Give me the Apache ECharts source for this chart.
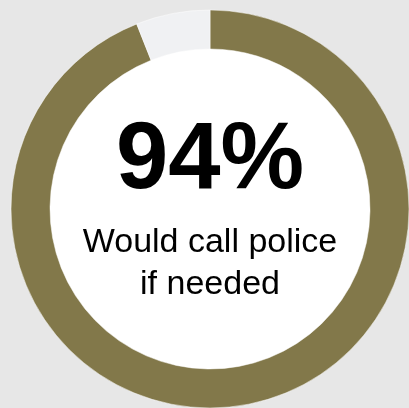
<!DOCTYPE html>
<html>
<head>
<meta charset="utf-8">
<script src="https://cdn.jsdelivr.net/npm/echarts@6/dist/echarts.min.js"></script>
<style>
html,body{margin:0;padding:0;background:#e7e7e7;}
#chart{width:409px;height:408px;}
</style>
</head>
<body>
<div id="chart"></div>
<script>
const categories = ['Would call police', 'Other'];
const values = [94, 6];
const colors = ['#82784a', '#f0f1f3'];
const captionLines = ['Would call police', 'if needed'];

const chart = echarts.init(document.getElementById('chart'), null, {renderer: 'canvas'});
const cx = 210, cy = 209;
chart.setOption({
  backgroundColor: '#e7e7e7',
  animation: false,
  series: [
    {
      type: 'pie',
      silent: true,
      center: [cx, cy + 1],
      radius: [0, 162],
      label: {show: false},
      itemStyle: {color: '#ffffff'},
      data: [{name: 'inner', value: 1}]
    },
    {
      type: 'pie',
      silent: true,
      center: [cx, cy],
      radius: [160, 199],
      startAngle: 90,
      clockwise: true,
      label: {show: false},
      labelLine: {show: false},
      itemStyle: {borderColor: '#ffffff', borderWidth: 0.5},
      data: categories.map((c, i) => ({name: c, value: values[i], itemStyle: {color: colors[i]}}))
    }
  ],
  graphic: [
    {
      type: 'text',
      z: 100,
      x: cx,
      y: 162,
      style: {
        text: values[0] + '%',
        fontFamily: '"Liberation Sans", Arial, sans-serif',
        fontWeight: 'bold',
        fontSize: 94,
        fill: '#000000',
        align: 'center',
        verticalAlign: 'middle'
      }
    },
    {
      type: 'text',
      z: 100,
      x: cx,
      y: 264,
      style: {
        text: captionLines.join('\n'),
        fontFamily: '"Liberation Sans", Arial, sans-serif',
        fontSize: 34,
        fill: '#000000',
        align: 'center',
        verticalAlign: 'middle',
        lineHeight: 42
      }
    }
  ]
});
</script>
</body>
</html>
